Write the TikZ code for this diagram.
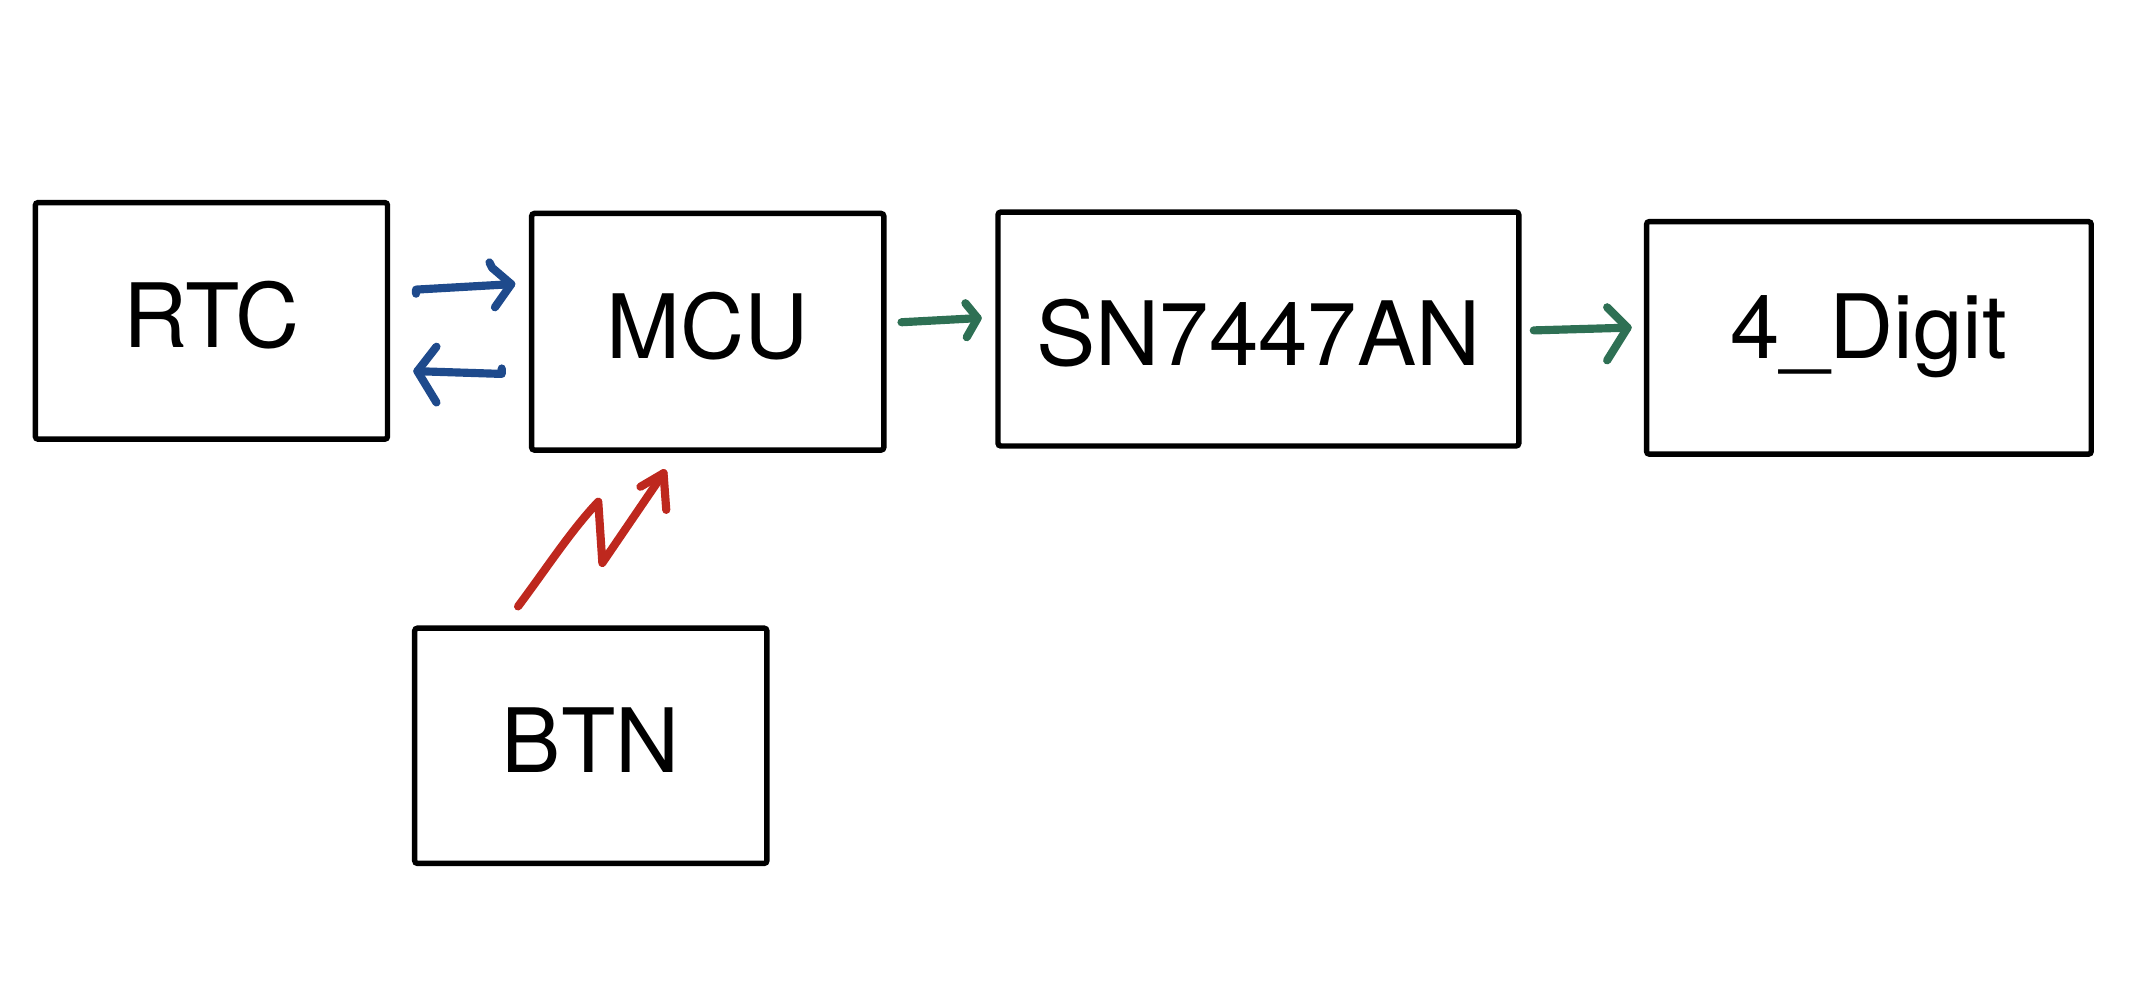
\documentclass[tikz,border=0pt]{standalone}
\usepackage{fontspec}
\setmainfont{TeX Gyre Heros}
\begin{document}
\begin{tikzpicture}[x=0.75pt,y=-0.75pt,
  blockbox/.style={draw=black,line width=3pt,rounded corners=1.5pt,inner sep=0pt,
    font=\fontsize{49}{58}\selectfont},
  stroke/.style={line width=4.5pt,line cap=round,line join=round},
  blueink/.style={stroke,draw={rgb,255:red,30;green,74;blue,140}},
  greenink/.style={stroke,draw={rgb,255:red,46;green,112;blue,84}},
  redink/.style={stroke,draw={rgb,255:red,190;green,40;blue,30}}]
\useasboundingbox (0,0) rectangle (1568,735.5);
\node[blockbox,minimum width=259*0.75pt,minimum height=174*0.75pt] (rtc) at (155.5,236) {};
\node[blockbox,minimum width=259*0.75pt,minimum height=174*0.75pt] (mcu) at (520.5,244) {};
\node[blockbox,minimum width=383*0.75pt,minimum height=172*0.75pt] (sn) at (925.5,242) {};
\node[blockbox,minimum width=327*0.75pt,minimum height=171*0.75pt] (dig) at (1374.5,248.5) {};
\node[blockbox,minimum width=259*0.75pt,minimum height=173*0.75pt] (btn) at (434.5,548.5) {};
\node[font=\fontsize{49}{58}\selectfont] (rtct) at ([yshift=3pt]rtc.center) {RTC};
\node[font=\fontsize{49}{58}\selectfont] (mcut) at ([yshift=3pt]mcu.center) {MCU};
\node[font=\fontsize{49}{58}\selectfont] (snt) at ([yshift=-2pt]sn.center) {SN7447AN};
\node[font=\fontsize{49}{58}\selectfont] (digt) at ([yshift=1pt]dig.center) {4\_Digit};
\node[font=\fontsize{49}{58}\selectfont] (btnt) at ([yshift=3pt]btn.center) {BTN};
% RTC -> MCU
\coordinate (a1s) at (306,213);
\coordinate (a1t) at (376,209);
\draw[blueink] (306,216) -- (a1s) -- (a1t);
\draw[blueink] (360,193) -- (362,197) -- (a1t) -- (364,226);
% MCU -> RTC
\coordinate (a2s) at (369,275);
\coordinate (a2t) at (307,273);
\draw[blueink] (369,271) -- (a2s) -- (a2t);
\draw[blueink] (321,255) -- (a2t) -- (321,296);
% MCU -> SN
\coordinate (a3s) at (663,237);
\coordinate (a3t) at (719,234);
\draw[greenink] (a3s) -- (a3t);
\draw[greenink] (710,223) -- (a3t) -- (711,248);
% SN -> Digit
\coordinate (a4s) at (1128,243);
\coordinate (a4t) at (1197,241);
\draw[greenink] (a4s) -- (a4t);
\draw[greenink] (1182,226) -- (a4t) -- (1182,265);
% BTN -> MCU
\coordinate (a5s) at (381,446);
\coordinate (a5t) at (488,348);
\draw[redink] (a5s) .. controls (402,418) and (420,390) .. (440,369) -- (443,414) -- (a5t);
\draw[redink] (471,358) -- (a5t) -- (490,375);
\end{tikzpicture}
\end{document}
